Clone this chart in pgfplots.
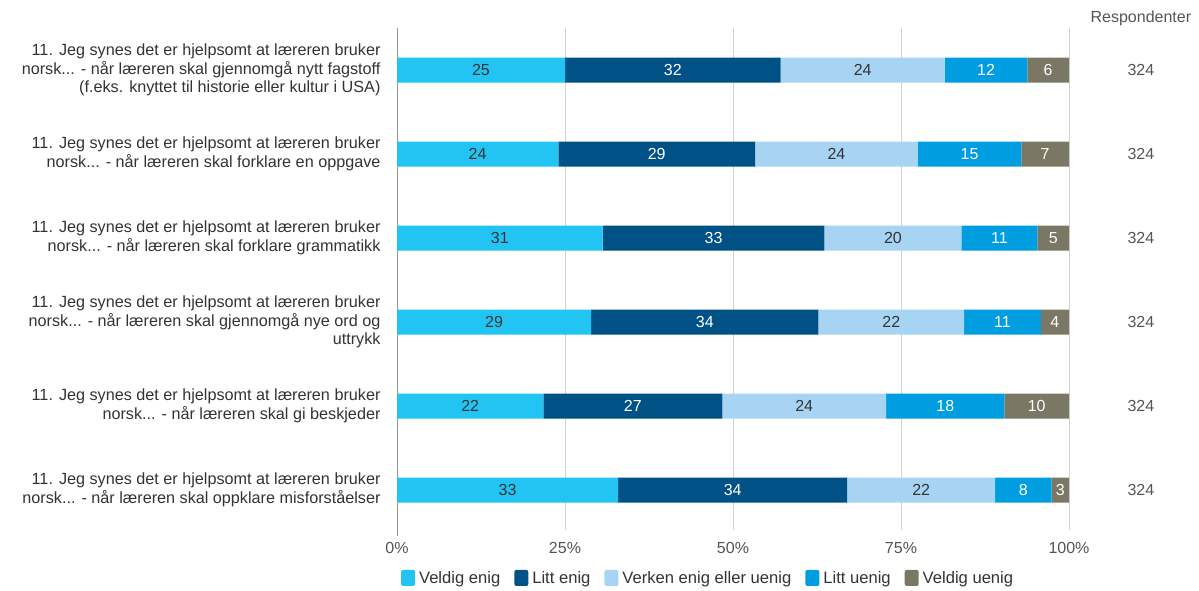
\documentclass[border=0pt]{standalone}
\usepackage{pgfplots}
\usepackage{pgfplotstable}
\pgfplotsset{compat=1.18}
\usepackage{fontspec}
\setmainfont{Liberation Sans}
\definecolor{cVE}{RGB}{33,196,243}
\definecolor{cLE}{RGB}{0,82,134}
\definecolor{cVK}{RGB}{168,212,244}
\definecolor{cLU}{RGB}{0,158,224}
\definecolor{cVU}{RGB}{122,120,100}
\definecolor{txt}{RGB}{51,51,51}
\definecolor{lbl}{RGB}{85,85,85}
\pgfplotstableread{
y v1 v2 v3 v4 v5
0 25.0 32.1 24.4 12.3 6.2
1 24.0 29.3 24.2 15.4 7.1
2 30.6 33.0 20.4 11.3 4.7
3 28.9 33.8 21.7 11.4 4.2
4 21.8 26.6 24.4 17.6 9.6
5 32.9 34.1 22.0 8.4 2.6
}\data
\begin{document}
\begin{tikzpicture}
\useasboundingbox (0,0) rectangle (1199pt,590pt);
\begin{axis}[
  at={(397pt,60pt)}, anchor=south west,
  scale only axis, width=672pt, height=502pt,
  xbar stacked, bar width=25pt,
  xmin=0, xmax=100, ymin=-0.5, ymax=5.476, y dir=reverse,
  xtick={0,25,50,75,100},
  xticklabels={0\%,25\%,50\%,75\%,100\%},
  ytick={0,1,2,3,4,5},
  yticklabels={
    {11. Jeg synes det er hjelpsomt at læreren bruker\\norsk{.}{.}{.} - når læreren skal gjennomgå nytt fagstoff\\(f.eks. knyttet til historie eller kultur i USA)},
    {11. Jeg synes det er hjelpsomt at læreren bruker\\norsk{.}{.}{.} - når læreren skal forklare en oppgave},
    {11. Jeg synes det er hjelpsomt at læreren bruker\\norsk{.}{.}{.} - når læreren skal forklare grammatikk},
    {11. Jeg synes det er hjelpsomt at læreren bruker\\norsk{.}{.}{.} - når læreren skal gjennomgå nye ord og\\uttrykk},
    {11. Jeg synes det er hjelpsomt at læreren bruker\\norsk{.}{.}{.} - når læreren skal gi beskjeder},
    {11. Jeg synes det er hjelpsomt at læreren bruker\\norsk{.}{.}{.} - når læreren skal oppklare misforståelser}},
  yticklabel style={align=right, font=\fontsize{16.2}{18.6}\selectfont, text=txt, xshift=-13pt},
  xticklabel style={font=\fontsize{16}{18}\selectfont, text=lbl, yshift=-9pt},
  major tick length=0pt,
  axis line style={draw=none},
  xmajorgrids, grid style={gray!35, line width=0.8pt},
  /pgf/number format/assume math mode=true,
  clip=false,
  nodes near coords={\pgfmathprintnumber[fixed,precision=0]{\pgfplotspointmeta}},
  point meta=explicit,
  every node near coord/.append style={font=\fontsize{16}{18}\selectfont},
  legend style={at={(0.463,0)}, anchor=north, yshift=-37pt, draw=none,
    font=\fontsize{16.6}{18}\selectfont, text=txt,
    /tikz/every even column/.append style={column sep=12pt},
    /tikz/every odd column/.append style={column sep=2pt}},
  legend columns=5,
  legend image code/.code={\fill[#1, rounded corners=2pt] (0pt,-8pt) rectangle (14pt,8pt);},
]
\addplot[fill=cVE, draw=none, every node near coord/.append style={text=txt}] table[x=v1,y=y,meta=v1]{\data};
\addplot[fill=cLE, draw=none, every node near coord/.append style={text=white}] table[x=v2,y=y,meta=v2]{\data};
\addplot[fill=cVK, draw=none, every node near coord/.append style={text=txt}] table[x=v3,y=y,meta=v3]{\data};
\addplot[fill=cLU, draw=none, every node near coord/.append style={text=white}] table[x=v4,y=y,meta=v4]{\data};
\addplot[fill=cVU, draw=none, every node near coord/.append style={text=white}] table[x=v5,y=y,meta=v5]{\data};
\legend{Veldig enig, Litt enig, Verken enig eller uenig, Litt uenig, Veldig uenig}
\draw[gray!80, line width=0.8pt] (axis cs:0,-0.5) -- (axis cs:0,5.55);
\node[text=lbl, font=\fontsize{16}{18}\selectfont] at (axis cs:110.7,0) {324};
\node[text=lbl, font=\fontsize{16}{18}\selectfont] at (axis cs:110.7,1) {324};
\node[text=lbl, font=\fontsize{16}{18}\selectfont] at (axis cs:110.7,2) {324};
\node[text=lbl, font=\fontsize{16}{18}\selectfont] at (axis cs:110.7,3) {324};
\node[text=lbl, font=\fontsize{16}{18}\selectfont] at (axis cs:110.7,4) {324};
\node[text=lbl, font=\fontsize{16}{18}\selectfont] at (axis cs:110.7,5) {324};
\node[text=lbl, font=\fontsize{16}{18}\selectfont] at (axis cs:110.7,-0.62) {Respondenter};
\end{axis}
\end{tikzpicture}
\end{document}
